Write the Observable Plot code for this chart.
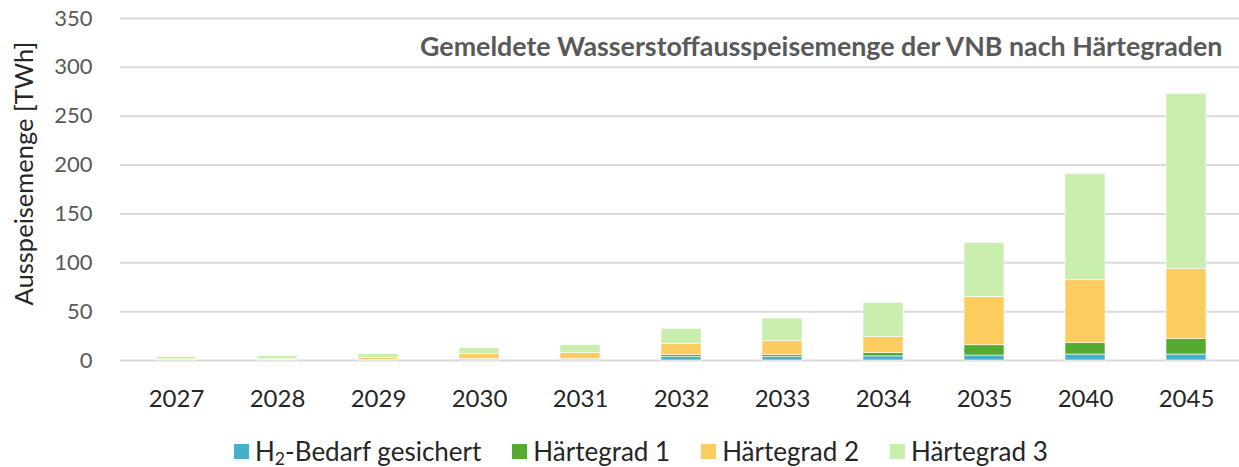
<!DOCTYPE html>
<html>
<head>
<meta charset="utf-8">
<script src="https://cdn.jsdelivr.net/npm/d3@7"></script>
<script src="https://cdn.jsdelivr.net/npm/@observablehq/plot@0.6"></script>
<style>
  body { margin: 0; background: #fff; font-family: Lato, "Open Sans", sans-serif; }
  #wrap { position: relative; width: 1239px; height: 467px; }
  #legend { position: absolute; left: 234px; top: 437px; display: flex; align-items: center; font-size: 26px; line-height: 28px; color: #262626; }
  .item { display: flex; align-items: center; margin-right: 31px; }
  .sw { width: 15px; height: 15px; margin-right: 6px; }
  sub { font-size: 0.68em; vertical-align: -0.2em; line-height: 0; }
</style>
</head>
<body>
<div id="wrap">
  <div id="chart"></div>
  <div id="legend"></div>
</div>
<script>
const years = ["2027","2028","2029","2030","2031","2032","2033","2034","2035","2040","2045"];
const seriesNames = ["H₂-Bedarf gesichert","Härtegrad 1","Härtegrad 2","Härtegrad 3"];
const seriesLabelsHtml = ["H<sub>2</sub>-Bedarf gesichert","Härtegrad 1","Härtegrad 2","Härtegrad 3"];
const colors = ["#45b0c9","#55ab32","#fdcc60","#caeeae"];
const gesichert = [0.3, 0.4, 0.4, 1.0, 1.0, 3.5, 3.5, 4.2, 5.1, 6.1, 6.1];
const haertegrad1 = [0.2, 0.2, 0.3, 0.4, 0.5, 2.2, 2.2, 3.3, 10.5, 11.6, 15.7];
const haertegrad2 = [0.5, 0.8, 2.0, 5.1, 6.0, 11.0, 14.0, 16.4, 49.5, 64.4, 72.0];
const haertegrad3 = [2.4, 3.0, 3.8, 6.1, 8.1, 15.7, 23.3, 35.1, 55.0, 108.7, 179.2];
const yTicks = [0, 50, 100, 150, 200, 250, 300, 350];
const title = "Gemeldete Wasserstoffausspeisemenge der VNB nach Härtegraden";
const yLabel = "Ausspeisemenge [TWh]";

const seriesValues = [gesichert, haertegrad1, haertegrad2, haertegrad3];
const rows = [];
seriesNames.forEach((s, si) => {
  years.forEach((y, i) => rows.push({year: y, series: s, value: seriesValues[si][i]}));
});

const chart = Plot.plot({
  width: 1239,
  height: 430,
  marginLeft: 120,
  marginRight: 0,
  marginTop: 18,
  marginBottom: 70,
  style: { fontFamily: "Lato, 'Open Sans', sans-serif" },
  x: { type: "band", domain: years, range: [121, 1242], paddingInner: 0.6, paddingOuter: 0.3, label: null },
  y: { domain: [0, 350], label: null },
  color: { domain: seriesNames, range: colors },
  marks: [
    Plot.gridY(yTicks, { stroke: "#d9d9d9", strokeOpacity: 1, strokeWidth: 2 }),
    Plot.barY(rows, Plot.stackY({ x: "year", y: "value", fill: "series", order: seriesNames, stroke: "white", strokeWidth: 0.6 })),
    Plot.axisY({ ticks: yTicks, tickSize: 0, tickPadding: 28, fontSize: 22, color: "#595959", label: null }),
    Plot.axisX({ tickSize: 0, tickPadding: 29, fontSize: 24, color: "#262626", label: null }),
    Plot.text([title], { frameAnchor: "top-right", dx: -17, dy: 29, lineAnchor: "middle", textAnchor: "end", fontSize: 26.8, fontWeight: "bold", fill: "#595959" }),
    Plot.text([yLabel], { frameAnchor: "left", rotate: -90, dx: -96, dy: -16, lineAnchor: "middle", textAnchor: "middle", fontSize: 25.5, fill: "#262626" })
  ]
});
document.getElementById("chart").appendChild(chart);

const legend = document.getElementById("legend");
seriesLabelsHtml.forEach((lab, i) => {
  const it = document.createElement("div");
  it.className = "item";
  it.innerHTML = `<span class="sw" style="background:${colors[i]}"></span><span>${lab}</span>`;
  legend.appendChild(it);
});
</script>
</body>
</html>
